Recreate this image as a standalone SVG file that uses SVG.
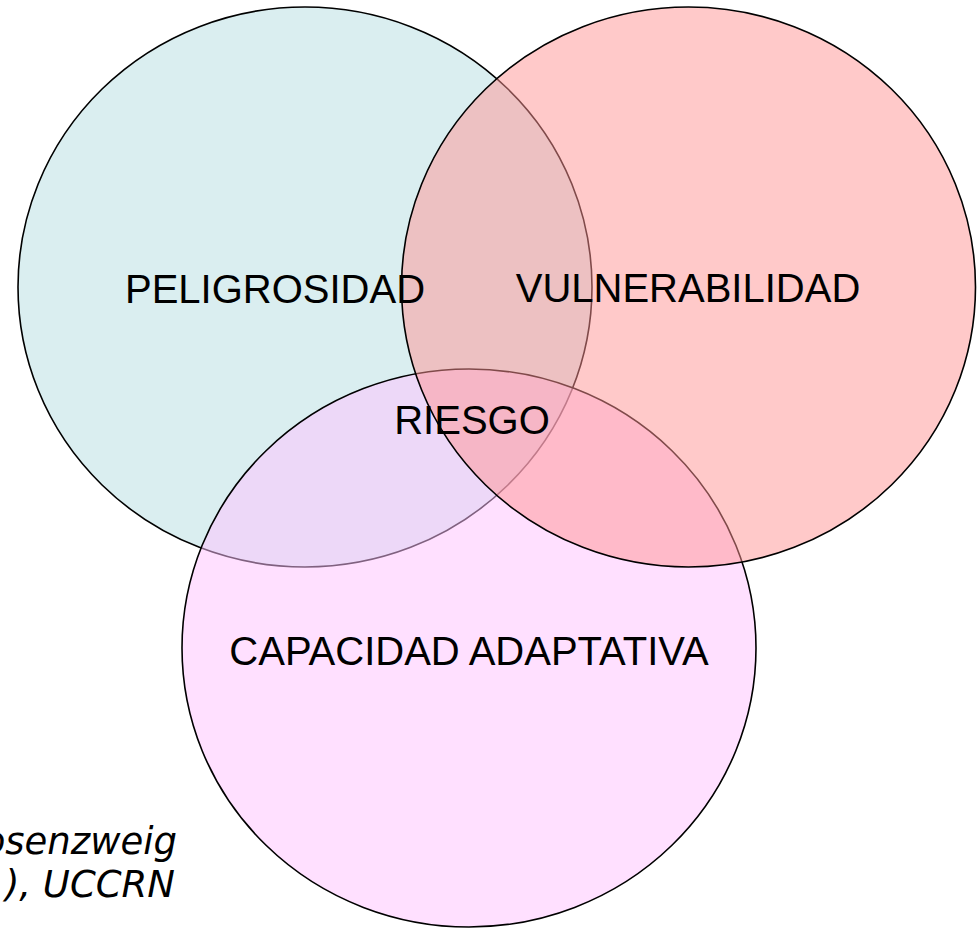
<svg xmlns="http://www.w3.org/2000/svg" width="980" height="928" viewBox="0 0 980 928">
  <style>
    .set { stroke: #000; stroke-width: 1.6; fill-opacity: 0.5; }
    .lbl { font-family: "Liberation Sans", Arial, sans-serif; font-size: 40px; fill: #000; text-anchor: middle; }
    .src { font-family: "DejaVu Sans", Verdana, sans-serif; font-style: italic; font-size: 37px; fill: #000; text-anchor: end; }
  </style>
  <rect x="0" y="0" width="980" height="928" fill="#ffffff"/>
  <g id="peligrosidad">
    <ellipse class="set" cx="305" cy="287" rx="287" ry="280" fill="#b5dde1"/>
  </g>
  <g id="capacidad-adaptativa">
    <ellipse class="set" cx="469" cy="648" rx="287" ry="279" fill="#ffc1ff"/>
  </g>
  <g id="vulnerabilidad">
    <ellipse class="set" cx="688.5" cy="287" rx="287" ry="280" fill="#ff9393"/>
  </g>
  <g id="labels">
    <text id="label-peligrosidad" class="lbl" x="275" y="303">PELIGROSIDAD</text>
    <text id="label-vulnerabilidad" class="lbl" x="688" y="302">VULNERABILIDAD</text>
    <text id="label-riesgo" class="lbl" x="472" y="434">RIESGO</text>
    <text id="label-capacidad" class="lbl" x="469" y="665">CAPACIDAD ADAPTATIVA</text>
  </g>
  <g id="source">
    <text class="src" x="177" y="854">osenzweig</text>
    <text class="src" x="175" y="897">), UCCRN</text>
  </g>
</svg>
